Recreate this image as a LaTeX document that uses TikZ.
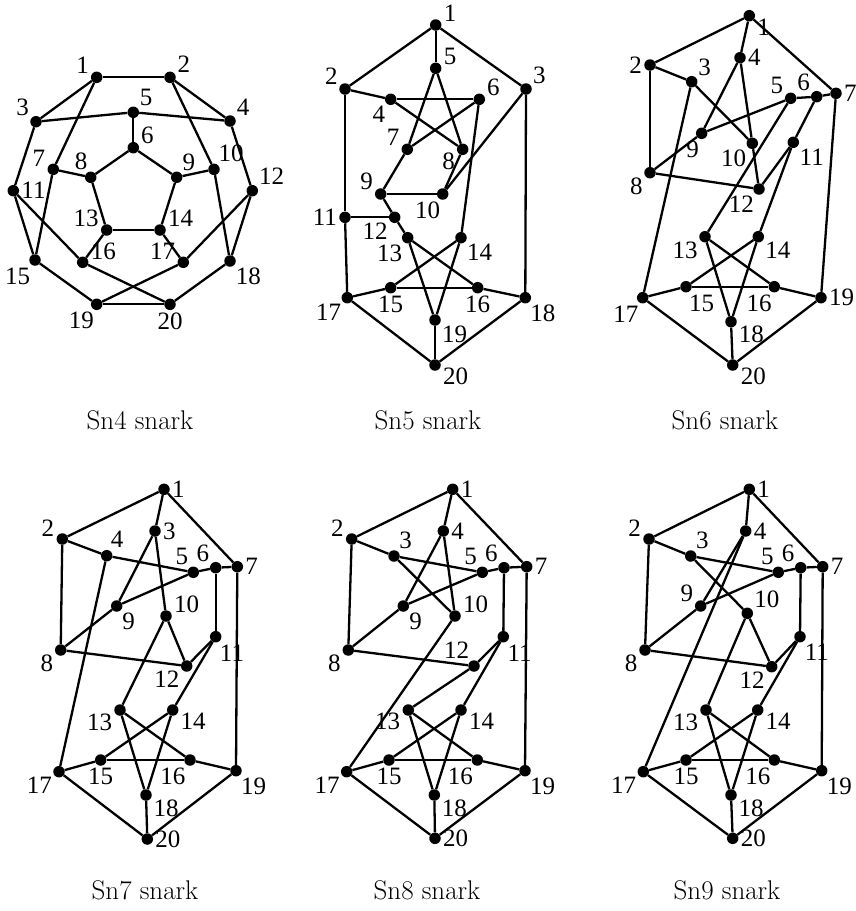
\documentclass[tikz,border=0pt]{standalone}
\usepackage{fontspec}
\newfontfamily\numfont{Liberation Serif}
\tikzset{
  vtx/.style={circle,fill=black,inner sep=0pt,minimum size=11.5pt},
  edge/.style={line width=2.3pt},
  every label/.style={font=\numfont\fontsize{25}{25}\selectfont,inner sep=2pt},
  snarkname/.style={font=\fontsize{27}{30}\selectfont}
}
\begin{document}
\begin{tikzpicture}[x=1pt,y=-1pt,label distance=0pt]
\useasboundingbox (0,0) rectangle (856,911);
% Sn4
\foreach \n/\x/\y/\a in {1/96.7/77.3/160,2/170/77.3/25,3/36/121.7/145,4/230/121/37,5/133.3/112.3/43,
  6/133.3/147.7/21,7/53.3/169.3/170,8/90.7/177.3/100,9/176.7/177.3/51,10/214/169.3/66,
  11/13.3/190.7/0,12/252.3/190.7/40,13/106.7/230/172,14/160/230/8,15/35/260/243,
  16/82.7/262.3/8,17/183.3/262.3/172,18/230/261/309,19/96.7/304.3/265,20/170/304.3/270}
  \node[vtx,label=\a:\n] (a\n) at (\x,\y) {};
\foreach \u/\v in {1/2,1/3,1/7,2/4,2/10,3/5,3/11,4/5,4/12,5/6,6/8,6/9,7/8,7/15,8/13,9/10,9/14,
  10/18,11/15,11/16,12/17,12/18,13/14,13/16,14/17,15/19,16/20,17/19,18/20,19/20}
  \draw[edge] (a\u) -- (a\v);
\node[snarkname] (capa) at (140,420) {Sn4 snark};
% Sn5
\foreach \n/\x/\y/\a in {1/435.7/25/10,2/345/89/153,3/526/89/36,4/390.7/99.3/235,5/435.7/68.3/10,
  6/479.3/99.3/16,7/407.3/149.3/163,8/462.7/149.3/197,9/380.7/194/163,10/442.7/194/266,
  11/345/217.3/180,12/394.7/217.3/213,13/407.7/237.7/236,14/461/237.7/310,15/390.7/287.7/270,
  16/477.7/287.7/270,17/347.3/297.7/228,18/525.3/297.7/300,19/435/320/325,20/435/365/352}
  \node[vtx,label=\a:\n] (b\n) at (\x,\y) {};
\foreach \u/\v in {1/2,1/3,1/5,2/4,2/11,3/10,3/18,4/6,4/8,5/7,5/8,6/7,6/14,7/9,8/10,9/10,9/12,
  11/12,11/17,12/13,13/16,13/19,14/15,14/19,15/16,15/17,16/18,17/20,18/20,19/20}
  \draw[edge] (b\u) -- (b\v);
\node[snarkname] (capb) at (428,420) {Sn5 snark};
% Sn6
\foreach \n/\x/\y/\a in {1/749.3/15.7/-12,2/650/65/180,3/691.7/81.7/41,4/740/57.7/0,5/790.7/98.3/155,
  6/816.7/96.7/140,7/836/93.3/0,8/650/172.7/207,9/701.7/133.3/265,10/752.3/143.3/227,
  11/793.3/142.3/315,12/759/189/240,13/705/236.7/207,14/758.3/236.7/327,15/686/286.7/280,
  16/774.3/286.7/265,17/642.7/297.7/250,18/731/321.7/340,19/821/297.7/0,20/732.7/365/355}
  \node[vtx,label=\a:\n] (c\n) at (\x,\y) {};
\foreach \u/\v in {1/2,1/4,1/7,2/3,2/8,3/10,3/17,4/9,4/10,5/6,5/9,5/13,6/7,6/11,7/19,8/9,8/12,
  10/12,11/12,11/14,13/16,13/18,14/15,14/18,15/16,15/17,16/19,17/20,18/20,19/20}
  \draw[edge] (c\u) -- (c\v);
\node[snarkname] (capc) at (725,420) {Sn6 snark};
% Sn7
\foreach \n/\x/\y/\a in {1/164/489.3/0,2/62.3/539/175,3/155/531/0,4/106.7/555.7/70,5/193.3/572.3/120,
  6/215.7/567.7/137,7/237.3/566.7/0,8/60.7/650/205,9/116.7/606/306,10/166/616/10,
  11/215.7/636.7/290,12/186.7/666/209,13/120/710/195,14/172.7/710/348,15/100.7/760/270,
  16/190/760/247,17/59/771.7/214,18/146/795/335,19/236/770.7/300,20/147.3/839/0}
  \node[vtx,label=\a:\n] (d\n) at (\x,\y) {};
\foreach \u/\v in {1/2,1/3,1/7,2/4,2/8,3/9,3/10,4/5,4/17,5/6,5/9,6/7,6/11,7/19,8/9,8/12,
  10/12,10/13,11/12,11/14,13/16,13/18,14/15,14/18,15/16,15/17,16/19,17/20,18/20,19/20}
  \draw[edge] (d\u) -- (d\v);
\node[snarkname] (capd) at (145,890) {Sn7 snark};
% Sn8
\foreach \n/\x/\y/\a in {1/452.7/489.3/0,2/351.7/539/175,3/394/556/57,4/443.3/531/0,5/482.3/572.3/122,
  6/504/567.7/135,7/526.7/566.7/0,8/348.3/650/205,9/403.3/606/310,10/455/616/10,
  11/503.3/636.7/290,12/474/666/117,13/408.3/710/185,14/461/710/348,15/389/760/270,
  16/477.3/760/247,17/346.7/771.7/214,18/434.3/795/335,19/525/770.7/300,20/435/838.3/0}
  \node[vtx,label=\a:\n] (e\n) at (\x,\y) {};
\foreach \u/\v in {1/2,1/4,1/7,2/3,2/8,3/5,3/10,4/9,4/10,5/6,5/9,6/7,6/11,7/19,8/9,8/12,
  10/17,11/12,11/14,12/13,13/16,13/18,14/15,14/18,15/16,15/17,16/19,17/20,18/20,19/20}
  \draw[edge] (e\u) -- (e\v);
\node[snarkname] (cape) at (427,890) {Sn8 snark};
% Sn9
\foreach \n/\x/\y/\a in {1/749.3/489.3/0,2/649/539/175,3/690.7/556/57,4/745.7/531/0,5/778.3/572.3/115,
  6/800.7/567.7/135,7/822.7/566.7/0,8/645/650/205,9/700.7/606/155,10/747.3/613.3/34,
  11/800/636.7/297,12/771.7/666.7/215,13/706/710/195,14/757.7/710/348,15/686/760/270,
  16/774.3/760/253,17/643.3/771.7/214,18/731/795/335,19/821.7/770.7/300,20/732.7/838.3/0}
  \node[vtx,label=\a:\n] (f\n) at (\x,\y) {};
\foreach \u/\v in {1/2,1/4,1/7,2/3,2/8,3/5,3/10,4/9,4/17,5/6,5/9,6/7,6/11,7/19,8/9,8/12,
  10/12,10/13,11/12,11/14,13/16,13/18,14/15,14/18,15/16,15/17,16/19,17/20,18/20,19/20}
  \draw[edge] (f\u) -- (f\v);
\node[snarkname] (capf) at (727,890) {Sn9 snark};
\end{tikzpicture}
\end{document}
